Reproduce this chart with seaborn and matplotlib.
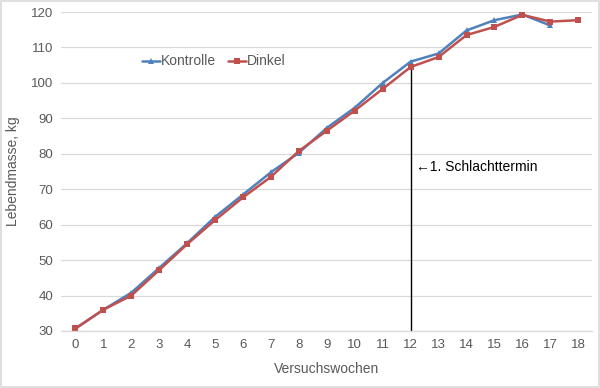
import numpy as np
import pandas as pd
import matplotlib
matplotlib.use("Agg")
import matplotlib.pyplot as plt
import seaborn as sns

weeks = list(range(19))
kontrolle = [30.7, 36.0, 40.8, 47.8, 54.8, 62.2, 68.5, 74.8, 80.3, 87.3, 93.0, 100.0, 106.0, 108.3, 114.8, 117.7, 119.3, 116.2, None]
dinkel = [30.7, 36.0, 40.0, 47.2, 54.5, 61.3, 67.7, 73.5, 80.8, 86.5, 92.2, 98.3, 104.5, 107.3, 113.5, 115.8, 119.2, 117.3, 117.7]
series_names = ["Kontrolle", "Dinkel"]
yticks = list(range(30, 121, 10))
marker_week = 12
annotation = "←1. Schlachttermin"

sns.set_theme(style="white")
plt.rcParams['font.family'] = ['Liberation Sans', 'DejaVu Sans']

df = pd.concat([
    pd.DataFrame({"Woche": weeks, "Wert": kontrolle, "Gruppe": series_names[0]}),
    pd.DataFrame({"Woche": weeks, "Wert": dinkel, "Gruppe": series_names[1]}),
]).dropna()

fig = plt.figure(figsize=(6, 3.88), dpi=100)
ax = fig.add_axes([0.1025, 0.147, 0.8845, 0.822])

palette = {"Kontrolle": "#4F81BD", "Dinkel": "#C0504D"}
sns.lineplot(data=df, x="Woche", y="Wert", hue="Gruppe", style="Gruppe",
             markers={"Kontrolle": "^", "Dinkel": "s"}, dashes=False,
             palette=palette, linewidth=1.8, markersize=5, markeredgewidth=0,
             ax=ax, legend=True)

ax.set_xlim(-0.5, 18.5)
ax.set_ylim(30, 120)
ax.set_xticks(weeks)
ax.set_yticks(yticks)
ax.tick_params(axis="both", labelsize=9.5, colors="#595959", length=0, pad=6)
ax.yaxis.grid(True, color="#d9d9d9", linewidth=0.9)
ax.set_axisbelow(True)
for s in ["top", "right", "left"]:
    ax.spines[s].set_visible(False)
ax.spines["bottom"].set_color("#d9d9d9")
ax.spines["bottom"].set_linewidth(0.9)

ax.set_xlabel("Versuchswochen", fontsize=10, color="#595959", labelpad=8)
ax.set_ylabel("Lebendmasse, kg", fontsize=10, color="#595959", labelpad=8)

k12 = kontrolle[marker_week]
ax.plot([marker_week, marker_week], [30, k12], color="black", linewidth=1.0, zorder=1)
ax.text(marker_week + 0.2, 76.3, annotation, fontsize=10, color="black", va="center", ha="left")

leg = ax.legend(loc="center", bbox_to_anchor=(0.287, 0.845), ncol=2, frameon=False,
                fontsize=10, handlelength=1.3, handletextpad=0.1, columnspacing=0.8)
for t in leg.get_texts():
    t.set_color("#595959")

fig.patches.append(matplotlib.patches.Rectangle((0.002, 0.002), 0.996, 0.996, transform=fig.transFigure,
                                                fill=False, edgecolor="#d9d9d9", linewidth=1.2))

fig.savefig("out.png", dpi=100)
